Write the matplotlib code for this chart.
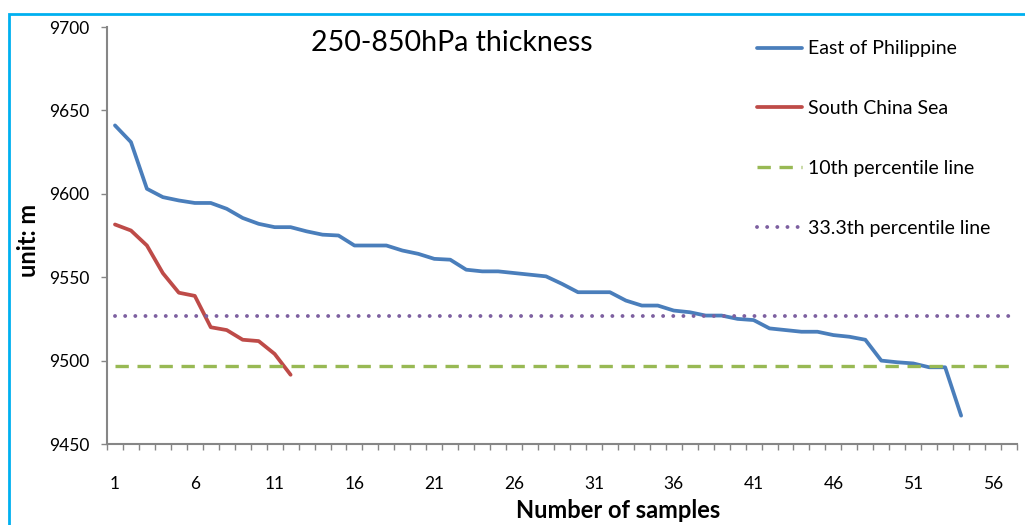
import numpy as np
import matplotlib
matplotlib.use('Agg')
import matplotlib.pyplot as plt
from matplotlib.patches import Rectangle

plt.rcParams['font.family'] = ['Lato', 'DejaVu Sans']

# 250-850hPa thickness, sorted samples
east_philippine = [9641, 9631, 9603, 9598, 9596, 9594.5, 9594.5, 9591, 9585.5, 9582,
                   9580, 9580, 9577.5, 9575.5, 9575, 9569, 9569, 9569, 9566, 9564,
                   9561, 9560.5, 9554.5, 9553.5, 9553.5, 9552.5, 9551.5, 9550.5, 9546, 9541,
                   9541, 9541, 9536, 9533, 9533, 9530, 9529, 9527, 9527, 9525,
                   9524.3, 9519.3, 9518.3, 9517.3, 9517.3, 9515.3, 9514.3, 9512.5, 9500, 9499,
                   9498.3, 9496, 9496, 9467]
south_china_sea = [9581.6, 9578, 9569, 9552.4, 9540.7, 9538.8, 9520, 9518.3, 9512.5, 9511.7,
                   9504, 9491.5]
p10 = 9497
p33 = 9527

n_categories = 57
x_labels = list(range(1, n_categories + 1, 5))

fig = plt.figure(figsize=(10.25, 5.25), dpi=100)
ax = fig.add_axes([107 / 1025, 1 - 444 / 525, (1017 - 107) / 1025, (444 - 27) / 525])

blue = '#4a7ebb'
red = '#be4b48'
green = '#98b954'
purple = '#7d60a0'

x_e = np.arange(1, len(east_philippine) + 1)
x_s = np.arange(1, len(south_china_sea) + 1)
ax.plot(x_e, east_philippine, color=blue, lw=2.7, solid_joinstyle='round',
        solid_capstyle='round', label='East of Philippine')
ax.plot(x_s, south_china_sea, color=red, lw=2.7, solid_joinstyle='round',
        solid_capstyle='round', label='South China Sea')
ax.plot([1, n_categories + 0.5], [p10, p10], color=green, lw=2.4,
        dashes=(4, 2.6), label='10th percentile line')
ax.plot([1, n_categories + 0.5], [p33, p33], color=purple, lw=2.8,
        dashes=(0.01, 2.6), dash_capstyle='round', label='33.3th percentile line')

ax.set_xlim(0.5, n_categories + 0.5)
ax.set_ylim(9450, 9700)
ax.set_yticks(range(9450, 9701, 50))

# category axis: tick marks between categories, labels every 5th
ax.set_xticks(np.arange(0.5, n_categories + 1, 1))
ax.set_xticklabels([])
ax.set_xticks(x_labels, minor=True)
ax.set_xticklabels([str(v) for v in x_labels], minor=True)
ax.tick_params(axis='x', which='major', direction='out', length=4.5, width=1, color='#868686')
ax.tick_params(axis='x', which='minor', length=0, pad=23, labelsize=12.5)
ax.tick_params(axis='y', direction='out', length=4.5, width=1, color='#868686',
               labelsize=12.5, pad=8)

for side in ['top', 'right']:
    ax.spines[side].set_visible(False)
for side in ['left', 'bottom']:
    ax.spines[side].set_color('#868686')
    ax.spines[side].set_linewidth(1.5)

ax.text(0.379, 0.962, '250-850hPa thickness', transform=ax.transAxes,
        ha='center', va='center', fontsize=20.5)

leg = ax.legend(loc='upper left', bbox_to_anchor=(0.695, 1.01), frameon=False,
                fontsize=14, labelspacing=2.2, handlelength=2.3, handletextpad=0.3)

fig.text(618 / 1025, 1 - 510 / 525, 'Number of samples', ha='center', va='center',
         fontsize=17, fontweight='bold')
fig.text(28 / 1025, 1 - 240 / 525, 'unit: m', ha='center', va='center', rotation=90,
         fontsize=17, fontweight='bold')

# cyan frame of the chart area
fig.patches.append(Rectangle((9 / 1025, -0.1), 1.2, 1 - 14 / 525 + 0.1,
                             transform=fig.transFigure, fill=False,
                             edgecolor='#00b0f0', lw=2))

fig.savefig('out.png', dpi=100)
